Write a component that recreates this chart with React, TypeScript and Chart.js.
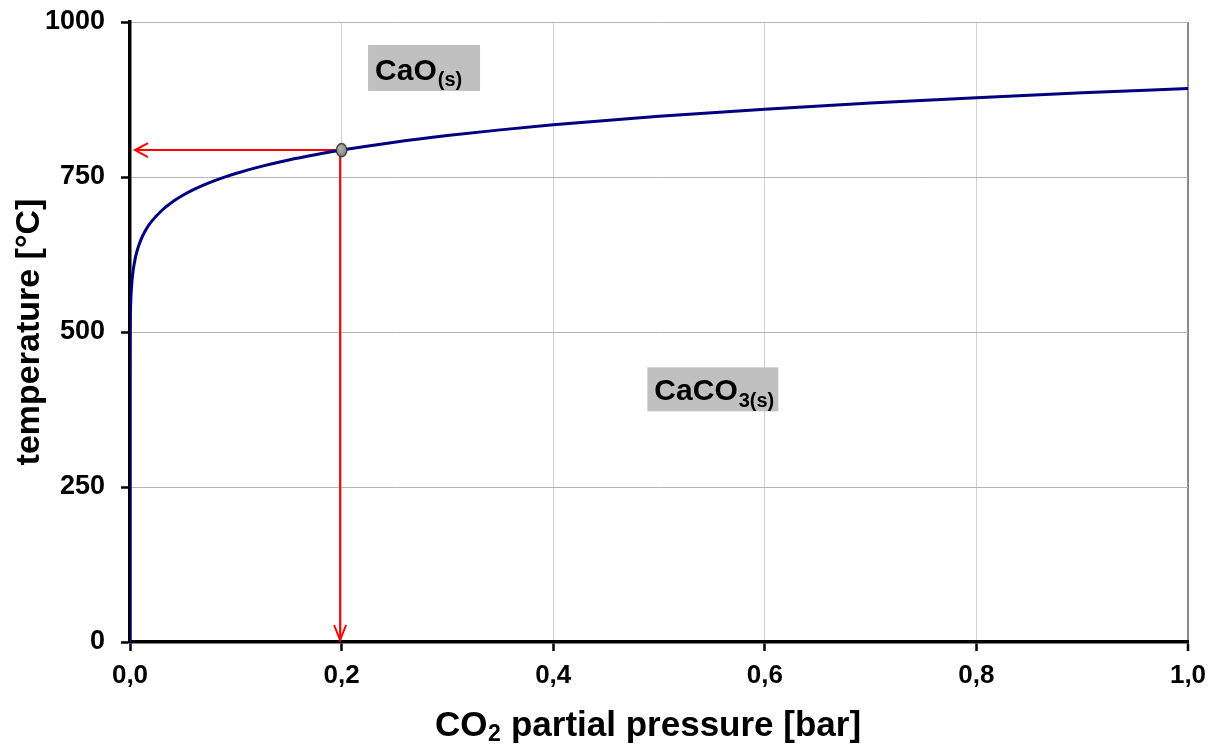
import React, { useEffect, useRef } from "react";
import { Chart, registerables } from "chart.js";

Chart.register(...registerables);

// ---- data ----
const pressure = [0, 0.00001, 0.0001, 0.0003, 0.001, 0.002, 0.003, 0.005, 0.007, 0.01, 0.015, 0.02, 0.03, 0.04, 0.05, 0.06, 0.07, 0.08, 0.09, 0.1, 0.125, 0.15, 0.175, 0.2, 0.25, 0.3, 0.35, 0.4, 0.5, 0.6, 0.7, 0.8, 0.9, 1.0];
const temperature = [0, 426.4, 487.3, 520.2, 559.7, 584.3, 599.4, 619.1, 632.6, 647.4, 664.8, 677.5, 696.0, 709.7, 720.5, 729.5, 737.2, 744.1, 750.2, 755.7, 767.5, 777.5, 785.9, 793.4, 806.2, 816.9, 826.0, 834.1, 847.8, 859.4, 869.3, 877.9, 885.7, 892.8];
const markerPressure = [0.2];
const markerTemperature = [793.4];
const xTicks = [0, 0.2, 0.4, 0.6, 0.8, 1.0];
const yTicks = [0, 250, 500, 750, 1000];
const yTitle = "temperature [°C]";
const xTitleParts = ["CO", "2", " partial pressure [bar]"];
const phaseMain = ["CaO", "CaCO"];
const phaseSub = ["(s)", "3(s)"];
const phasePressure = [0.225, 0.489];
const phaseTemperature = [963, 443];

// ---- styling ----
const FONT = '"Liberation Sans", Arial, Helvetica, sans-serif';
const CANVAS_W = 1211;
const CANVAS_H = 747;
const BOX_W = [112, 131];
const BOX_H = [46, 44];
const BOX_BASE = [35, 33];

function makeMarker(): HTMLCanvasElement {
  const c = document.createElement("canvas");
  c.width = 13;
  c.height = 16;
  const g = c.getContext("2d")!;
  g.beginPath();
  g.ellipse(6.5, 8, 5.2, 6.6, 0, 0, Math.PI * 2);
  const grad = g.createRadialGradient(5, 6, 1, 6.5, 8, 7);
  grad.addColorStop(0, "#b0b0b0");
  grad.addColorStop(1, "#808080");
  g.fillStyle = grad;
  g.fill();
  g.lineWidth = 1.3;
  g.strokeStyle = "#333333";
  g.stroke();
  return c;
}

const overlayPlugin = {
  id: "overlay",
  beforeDatasetsDraw(chart: any) {
    const { ctx, scales } = chart;
    const xs = scales.x;
    const ys = scales.y;
    const px = xs.getPixelForValue(markerPressure[0]) - 1.5;
    const py = ys.getPixelForValue(markerTemperature[0]);
    const left = xs.getPixelForValue(xs.min) + 5;
    const bottom = ys.getPixelForValue(ys.min) - 2;
    ctx.save();
    ctx.strokeStyle = "#ff0000";
    ctx.lineWidth = 2;
    ctx.lineCap = "butt";
    // horizontal arrow
    ctx.beginPath();
    ctx.moveTo(px, py);
    ctx.lineTo(left, py);
    ctx.stroke();
    ctx.beginPath();
    ctx.moveTo(left + 13, py - 7);
    ctx.lineTo(left, py);
    ctx.lineTo(left + 13, py + 7);
    ctx.stroke();
    // vertical arrow
    ctx.beginPath();
    ctx.moveTo(px, py);
    ctx.lineTo(px, bottom);
    ctx.stroke();
    ctx.beginPath();
    ctx.moveTo(px - 6, bottom - 15);
    ctx.lineTo(px, bottom);
    ctx.lineTo(px + 6, bottom - 15);
    ctx.stroke();
    ctx.restore();
  },
  afterDatasetsDraw(chart: any) {
    const { ctx, scales } = chart;
    ctx.save();
    for (let i = 0; i < phaseMain.length; i++) {
      const bx = scales.x.getPixelForValue(phasePressure[i]);
      const by = scales.y.getPixelForValue(phaseTemperature[i]);
      ctx.fillStyle = "#c0c0c0";
      ctx.fillRect(bx, by, BOX_W[i], BOX_H[i]);
      ctx.fillStyle = "#000000";
      ctx.textBaseline = "alphabetic";
      ctx.textAlign = "left";
      ctx.font = `bold 30px ${FONT}`;
      const tx = bx + 7;
      const base = by + BOX_BASE[i];
      ctx.fillText(phaseMain[i], tx, base);
      const w = ctx.measureText(phaseMain[i]).width;
      ctx.font = `bold 20px ${FONT}`;
      ctx.fillText(phaseSub[i], tx + w + 1, base + 6.5);
    }
    ctx.restore();
  },
  afterDraw(chart: any) {
    const { ctx, chartArea } = chart;
    ctx.save();
    ctx.fillStyle = "#000000";
    ctx.textBaseline = "alphabetic";
    ctx.textAlign = "left";
    const mainFont = `bold 35px ${FONT}`;
    const subFont = `bold 23px ${FONT}`;
    ctx.font = mainFont;
    const w0 = ctx.measureText(xTitleParts[0]).width;
    const w2 = ctx.measureText(xTitleParts[2]).width;
    ctx.font = subFont;
    const w1 = ctx.measureText(xTitleParts[1]).width;
    const total = w0 + w1 + w2 + 1;
    const cx = (chartArea.left + chartArea.right) / 2 - 11;
    const base = chartArea.bottom + 94;
    let x = cx - total / 2;
    ctx.font = mainFont;
    ctx.fillText(xTitleParts[0], x, base);
    x += w0 + 0.5;
    ctx.font = subFont;
    ctx.fillText(xTitleParts[1], x, base + 5);
    x += w1 + 0.5;
    ctx.font = mainFont;
    ctx.fillText(xTitleParts[2], x, base);
    ctx.restore();
  },
};

export default function App() {
  const ref = useRef<HTMLCanvasElement | null>(null);

  useEffect(() => {
    document.body.style.margin = "0";
    const canvas = ref.current;
    if (!canvas) return;
    const marker = makeMarker();
    const chart = new Chart(canvas, {
      type: "scatter",
      data: {
        datasets: [
          {
            label: "equilibrium",
            data: pressure.map((p, i) => ({ x: p, y: temperature[i] })),
            showLine: true,
            borderColor: "#000080",
            borderWidth: 3,
            pointRadius: 0,
            cubicInterpolationMode: "monotone",
            order: 2,
          } as any,
          {
            label: "marker",
            data: markerPressure.map((p, i) => ({ x: p, y: markerTemperature[i] })),
            pointStyle: marker,
            pointRadius: 6,
            showLine: false,
            order: 1,
          } as any,
        ],
      },
      plugins: [overlayPlugin],
      options: {
        animation: false,
        responsive: false,
        devicePixelRatio: 1,
        layout: { padding: { left: 0, right: 23, top: 22, bottom: 0 } },
        plugins: {
          legend: { display: false },
          tooltip: { enabled: false },
          title: { display: false },
        },
        scales: {
          x: {
            type: "linear",
            min: 0,
            max: 1,
            afterBuildTicks: (s: any) => {
              s.ticks = xTicks.map((v) => ({ value: v }));
            },
            afterFit: (s: any) => {
              s.height = 105;
              s.paddingLeft = 0;
              s.paddingRight = 0;
            },
            ticks: {
              color: "#000000",
              font: { family: FONT, size: 26, weight: "bold" },
              padding: 9,
              maxRotation: 0,
              callback: (v: any) => Number(v).toFixed(1).replace(".", ","),
            },
            grid: {
              color: (c: any) => (c.tick && c.tick.value === 1 ? "#8a8a8a" : "#d0d0d0"),
              lineWidth: (c: any) => (c.tick && c.tick.value === 1 ? 2 : 1),
              tickColor: "#000000",
              tickLength: 9,
              tickWidth: 2.5,
            },
            border: { color: "#000000", width: 3.5 },
          },
          y: {
            type: "linear",
            min: 0,
            max: 1000,
            afterBuildTicks: (s: any) => {
              s.ticks = yTicks.map((v) => ({ value: v }));
            },
            afterFit: (s: any) => {
              s.width = 130;
              s.paddingTop = 0;
              s.paddingBottom = 0;
            },
            ticks: {
              color: "#000000",
              font: { family: FONT, size: 27, weight: "bold" },
              padding: 16,
              callback: (v: any) => String(v),
            },
            grid: {
              color: "#b4b4b4",
              lineWidth: 1,
              tickColor: "#000000",
              tickLength: 9,
              tickWidth: 2.5,
            },
            border: { color: "#000000", width: 3.5 },
            title: {
              display: true,
              text: yTitle,
              color: "#000000",
              font: { family: FONT, size: 34, weight: "bold" },
              padding: { top: 9, bottom: 0 },
            },
          },
        },
      } as any,
    });
    return () => chart.destroy();
  }, []);

  return (
    <div style={{ width: CANVAS_W, height: CANVAS_H, background: "#ffffff" }}>
      <canvas ref={ref} width={CANVAS_W} height={CANVAS_H} style={{ display: "block" }} />
    </div>
  );
}
